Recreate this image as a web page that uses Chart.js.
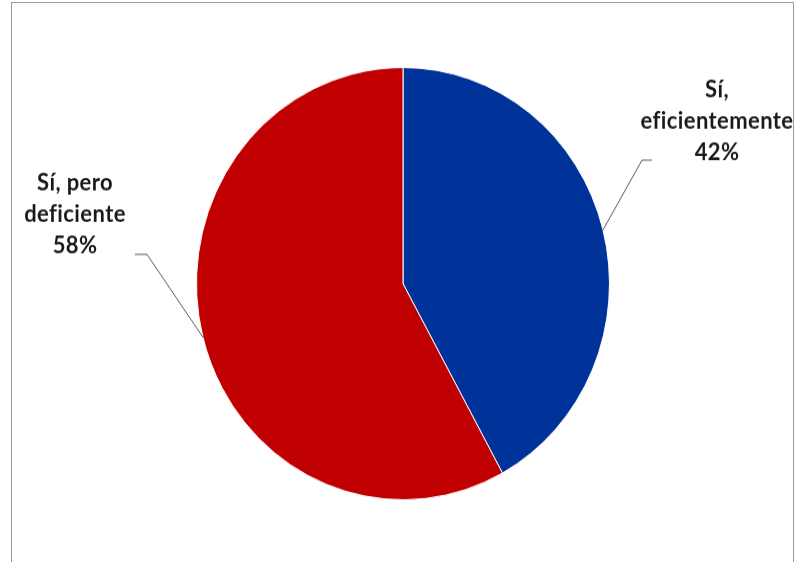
<!DOCTYPE html>
<html>
<head>
<meta charset="utf-8">
<script src="https://cdn.jsdelivr.net/npm/chart.js@4/dist/chart.umd.min.js"></script>
<style>
    html, body { margin: 0; padding: 0; background: #fff; }
    #wrap { position: relative; width: 812px; height: 562px; overflow: hidden; }
    #frame {
        position: absolute; left: 11px; top: 2px; width: 783px; height: 580px;
        border: 1px solid #9a9a9a; box-sizing: border-box;
    }
    /* el gráfico original está algo estirado en vertical */
    canvas { position: absolute; left: 0; top: 0; transform-origin: 0 0; transform: scaleY(1.0466); }
</style>
</head>
<body>
<div id="wrap">
    <div id="frame"></div>
    <canvas id="pieChart" width="812" height="537"></canvas>
</div>
<script>
// categorías y porcentajes
const CATEGORIAS = ['Sí, eficientemente', 'Sí, pero deficiente'];
const VALORES = [42, 58];
const COLORES = ['#003399', '#C00000'];

// texto de cada etiqueta, en líneas
const ETIQUETAS = [
    ['Sí,', 'eficientemente', VALORES[0] + '%'],
    ['Sí, pero', 'deficiente', VALORES[1] + '%']
];

// dónde va cada etiqueta y el codo de su línea guía
const POS_ETIQUETAS = [
    { x: 717, y: 86, codo: { x: 642, y: 153 }, fin: { x: 652, y: 153 } },
    { x: 75, y: 175, codo: { x: 147, y: 243 }, fin: { x: 135, y: 243 } }
];

// dibuja etiquetas con líneas guía desde el borde de cada porción
const etiquetasPlugin = {
    id: 'etiquetas',
    afterDatasetsDraw(chart) {
        const ctx = chart.ctx;
        const meta = chart.getDatasetMeta(0);
        ctx.save();
        meta.data.forEach((arc, i) => {
            const p = arc.getProps(['x', 'y', 'startAngle', 'endAngle', 'outerRadius'], true);
            const mid = (p.startAngle + p.endAngle) / 2;
            const bx = p.x + Math.cos(mid) * p.outerRadius;
            const by = p.y + Math.sin(mid) * p.outerRadius;
            const pos = POS_ETIQUETAS[i];

            ctx.strokeStyle = '#5a5a5a';
            ctx.lineWidth = 1;
            ctx.beginPath();
            ctx.moveTo(bx, by);
            ctx.lineTo(pos.codo.x, pos.codo.y);
            ctx.lineTo(pos.fin.x, pos.fin.y);
            ctx.stroke();

            ctx.fillStyle = '#1a1a1a';
            ctx.font = 'bold 22px Lato, "Liberation Sans", sans-serif';
            ctx.letterSpacing = '0.4px'; // sin ligaduras "fi"
            ctx.textAlign = 'center';
            ctx.textBaseline = 'middle';
            ETIQUETAS[i].forEach((linea, j) => {
                ctx.fillText(linea, pos.x, pos.y + j * 30);
            });
        });
        ctx.restore();
    }
};

new Chart(document.getElementById('pieChart').getContext('2d'), {
    type: 'pie',
    data: {
        labels: CATEGORIAS,
        datasets: [{
            data: VALORES,
            backgroundColor: COLORES,
            borderColor: '#ffffff',
            borderWidth: 1
        }]
    },
    options: {
        responsive: false,
        devicePixelRatio: 1,
        animation: false,
        layout: { padding: { top: 64, bottom: 59, left: 196, right: 202 } },
        plugins: {
            legend: { display: false },
            tooltip: { enabled: false }
        }
    },
    plugins: [etiquetasPlugin]
});
</script>
</body>
</html>
